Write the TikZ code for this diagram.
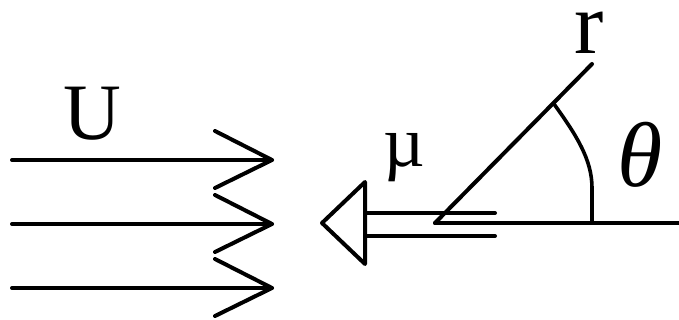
\documentclass[tikz,border=0pt]{standalone}
\usepackage{fontspec}
\setmainfont{Liberation Serif}

\begin{document}
\begin{tikzpicture}[x=0.5pt,y=-0.5pt,line width=2pt,line cap=round,line join=round]
  \useasboundingbox (0,0) rectangle (679,320);
  % uniform stream
  \draw (12,160) -- (272,160);
  \draw (215,131) -- (272,160) -- (215,188);
  \draw (12,224) -- (272,224);
  \draw (215,195) -- (272,224) -- (215,252);
  \draw (12,288) -- (272,288);
  \draw (215,259) -- (272,288) -- (215,316);
  \node (U) at (92,114) {\fontsize{40pt}{40pt}\selectfont U};
  % dipole
  \coordinate (o) at (435,223);
  \draw (322,223) -- (365,182) -- (365,264) -- cycle;
  \draw (365,213) -- (495,213);
  \draw (365,236) -- (495,236);
  \draw (o) -- (679,223);
  \draw (o) -- (592,64);
  \draw[line width=1.8pt] (592,223) -- (592,188) .. controls (592,160) and (577,136) .. (554,104);
  \node (mu) at (404,158) {\fontsize{36pt}{36pt}\selectfont µ};
  \node (theta) at (640,155) {\fontsize{46pt}{46pt}\selectfont\itshape θ};
  \node[inner sep=0pt] (r) at (589,33) {\fontsize{44pt}{44pt}\selectfont r};
\end{tikzpicture}
\end{document}
